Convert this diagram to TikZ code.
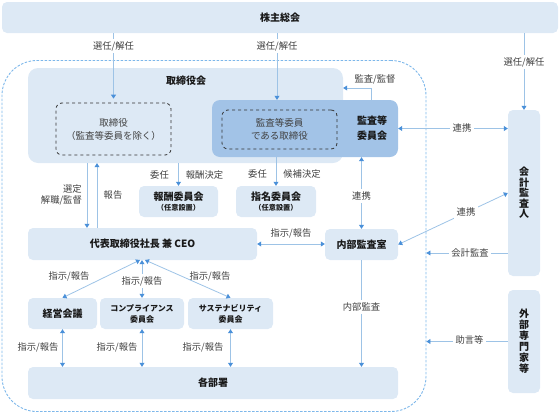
\documentclass[tikz,border=0pt]{standalone}
\usepackage{fontspec}
\setmainfont{Noto Sans CJK JP}
\usetikzlibrary{arrows.meta}
\definecolor{boxfill}{HTML}{DDE9F5}
\definecolor{darkfill}{HTML}{A2C3E7}
\definecolor{lineblue}{HTML}{9DC3E6}
\definecolor{tipblue}{HTML}{4A90D9}
\definecolor{grpblue}{HTML}{7DB7EA}
\definecolor{labgray}{HTML}{404040}
\tikzset{
 box/.style={draw=none, fill=boxfill, rounded corners=5pt, inner sep=0pt, font=\bfseries\fontsize{10}{13}\selectfont, text=black!90, align=center},
 dbox/.style={draw=black!80, dashed, rounded corners=6pt, line width=0.8pt, inner sep=0pt, align=center, font=\fontsize{9.5}{13}\selectfont, text=labgray},
 title/.style={font=\bfseries\fontsize{10}{15}\selectfont, text=black!90, align=center, inner sep=0pt},
 arr/.style={draw=lineblue, line width=0.8pt, -{Triangle[width=5pt,length=4pt,color=tipblue]}},
 darr/.style={draw=lineblue, line width=0.8pt, {Triangle[width=5pt,length=4pt,color=tipblue]}-{Triangle[width=5pt,length=4pt,color=tipblue]}},
 lab/.style={font=\fontsize{9.3}{11}\selectfont, text=labgray, inner sep=1pt, align=center},
 wlab/.style={lab, fill=white, inner sep=2.5pt},
 small/.style={font=\bfseries\fontsize{8}{11}\selectfont}
}
\begin{document}
\begin{tikzpicture}[x=1pt,y=-1pt]
\useasboundingbox (0,0) rectangle (560,413);
% group
\node[draw=grpblue, dash pattern=on 2.5pt off 1.5pt, line width=0.9pt, rounded corners=35pt, minimum width=424pt, minimum height=351pt, inner sep=0pt] (grp) at (214,236) {};
% boxes
\node[box, minimum width=556pt, minimum height=31pt] (sh) at (280,17.5) {株主総会};
\node[box, rounded corners=10pt, minimum width=315pt, minimum height=95pt] (board) at (185.5,115.5) {};
\node[title] (boardlab) at (186,81) {取締役会};
\node[dbox, minimum width=115pt, minimum height=52pt] (dir) at (113.5,129) {取締役\\（監査等委員を除く）};
\node[box, fill=darkfill, rounded corners=8pt, minimum width=186pt, minimum height=57pt] (ac) at (305,128.5) {};
\node[dbox, minimum width=115pt, minimum height=39pt] (acd) at (279.5,129.5) {監査等委員\\である取締役};
\node[title] (aclab) at (372,128) {監査等\\委員会};
\node[box, minimum width=79pt, minimum height=31pt] (hoshu) at (178.5,201.5) {報酬委員会\\[-3pt]{\fontsize{7.2}{8}\selectfont （任意設置）}};
\node[box, minimum width=80pt, minimum height=31pt] (shimei) at (276,201.5) {指名委員会\\[-3pt]{\fontsize{7.2}{8}\selectfont （任意設置）}};
\node[box, minimum width=229pt, minimum height=32pt] (ceo) at (142.5,244) {代表取締役社長 兼 CEO};
\node[box, minimum width=73pt, minimum height=31pt] (naibu) at (361.5,244.5) {内部監査室};
\node[box, minimum width=69pt, minimum height=31pt] (keiei) at (62.5,313.5) {経営会議};
\node[box, small, minimum width=84pt, minimum height=31pt] (comp) at (142,313.5) {コンプライアンス\\委員会};
\node[box, small, minimum width=85pt, minimum height=31pt] (sust) at (230.5,313.5) {サステナビリティ\\委員会};
\node[box, minimum width=370pt, minimum height=32pt] (kakubu) at (213,383) {各部署};
\node[box, minimum width=32pt, minimum height=166pt, font=\bfseries\fontsize{10}{10.5}\selectfont] (kaikei) at (524,193) {会\\計\\監\\査\\人};
\node[box, minimum width=32pt, minimum height=103pt, font=\bfseries\fontsize{10}{11}\selectfont] (gaibu) at (524,341.5) {外\\部\\専\\門\\家\\等};
% helper coordinates
\coordinate (x277) at (277,0);
\coordinate (kk) at (371,88);
\coordinate (x87) at (87,0);
\coordinate (x97) at (97,0);
\coordinate (y253) at (0,253);
\coordinate (cl) at (140,260);
\coordinate (cr) at (145,260);
% arrows
\draw[arr, shorten >=4pt] (sh.south -| dir.north) -- (dir.north);
\draw[arr] (sh.south -| x277) -- (ac.north -| x277);
\draw[arr] (sh.south -| kaikei.north) -- (kaikei.north);
\draw[arr] (ac.north -| kk) |- (board.east |- kk);
\draw[darr] (ac.east) -- (kaikei.west |- ac.east);
\draw[arr] (board.south -| hoshu.north) -- (hoshu.north);
\draw[arr] (ac.south -| shimei.north) -- (shimei.north);
\draw[arr] (board.south -| x87) -- (ceo.north -| x87);
\draw[arr] (ceo.north -| x97) -- (board.south -| x97);
\draw[darr] (ceo.east) -- (naibu.west |- ceo.east);
\draw[darr] (ac.south -| naibu.north) -- (naibu.north);
\draw[darr] (naibu.east) -- (kaikei.west);
\draw[arr] (kaikei.west |- y253) -- (grp.east |- y253);
\draw[arr] (naibu.south) -- (kakubu.north -| naibu.south);
\draw[arr] (gaibu.west) -- (grp.east |- gaibu.west);
\draw[darr] (cl) -- (keiei.north);
\draw[darr] (ceo.south -| comp.north) -- (comp.north);
\draw[darr] (cr) -- (sust.north);
\draw[darr] (keiei.south) -- (kakubu.north -| keiei.south);
\draw[darr] (comp.south) -- (kakubu.north -| comp.south);
\draw[darr] (sust.south) -- (kakubu.north -| sust.south);
% labels
\node[wlab] (l1) at (113.5,46) {選任/解任};
\node[wlab] (l2) at (277,46) {選任/解任};
\node[wlab] (l3) at (524,62) {選任/解任};
\node[lab] (l4) at (375,79) {監査/監督};
\node[wlab] (l5) at (462,128) {連携};
\node[lab] (l6) at (159.5,175) {委任};
\node[lab] (l7) at (204.5,175) {報酬決定};
\node[lab] (l8) at (257.5,174) {委任};
\node[lab] (l9) at (302,174) {候補決定};
\node[lab, anchor=east, align=right] (l10) at (83,195) {選定\\解職/監督};
\node[lab] (l11) at (113,195) {報告};
\node[lab] (l12) at (291,233) {指示/報告};
\node[wlab] (l13) at (361.5,196) {連携};
\node[wlab] (l14) at (466,212) {連携};
\node[wlab] (l15) at (470,253) {会計監査};
\node[wlab] (l16) at (361.5,307) {内部監査};
\node[wlab] (l17) at (469.5,340) {助言等};
\node[lab] (l18) at (69,276) {指示/報告};
\node[wlab] (l19) at (142,281) {指示/報告};
\node[lab] (l20) at (210,276) {指示/報告};
\node[lab] (l21) at (38,347) {指示/報告};
\node[lab] (l22) at (117,347) {指示/報告};
\node[lab] (l23) at (203,347) {指示/報告};
\end{tikzpicture}
\end{document}
